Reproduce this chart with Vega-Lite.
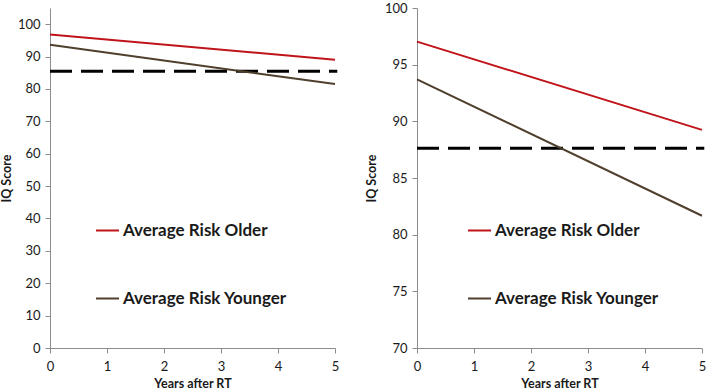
{
  "$schema": "https://vega.github.io/schema/vega-lite/v6.json",
  "padding": {"left": 0, "top": 2, "right": 0, "bottom": 0},
  "spacing": 26,
  "background": "white",
  "config": {
    "font": "Lato",
    "view": {"stroke": null},
    "axis": {
      "grid": false,
      "domainColor": "#8c8c8c",
      "tickColor": "#8c8c8c",
      "labelFont": "Lato",
      "labelFontSize": 13,
      "labelColor": "#1a1a1a",
      "labelOverlap": false,
      "titleFont": "Lato",
      "titleFontSize": 12.5,
      "titleFontWeight": "bold",
      "titleColor": "#1a1a1a",
      "format": "d"
    },
    "legend": {
      "orient": "none",
      "symbolType": "stroke",
      "symbolStrokeWidth": 2,
      "symbolSize": 529,
      "labelFont": "Lato",
      "labelFontSize": 17,
      "labelFontWeight": "bold",
      "labelColor": "#1a1a1a",
      "labelLimit": 0,
      "rowPadding": 47,
      "labelOffset": 3,
      "title": null
    }
  },
  "datasets": {
    "lines": [
      {"panel": "A", "group": "Average Risk Older", "year": 0, "iq": 96.85},
      {"panel": "A", "group": "Average Risk Older", "year": 5, "iq": 89.0},
      {"panel": "A", "group": "Average Risk Younger", "year": 0, "iq": 93.66},
      {"panel": "A", "group": "Average Risk Younger", "year": 5, "iq": 81.5},
      {"panel": "B", "group": "Average Risk Older", "year": 0, "iq": 97.03},
      {"panel": "B", "group": "Average Risk Older", "year": 5, "iq": 89.25},
      {"panel": "B", "group": "Average Risk Younger", "year": 0, "iq": 93.7},
      {"panel": "B", "group": "Average Risk Younger", "year": 5, "iq": 81.67}
    ],
    "thresholds": [
      {"panel": "A", "x0": 0, "x1": 5.04, "iq": 85.5},
      {"panel": "B", "x0": 0, "x1": 5.04, "iq": 87.62}
    ]
  },
  "hconcat": [
    {
      "width": 285,
      "height": 340,
      "layer": [
        {
          "data": {"name": "thresholds"},
          "transform": [{"filter": "datum.panel === 'A'"}],
          "mark": {"type": "rule", "color": "black", "strokeWidth": 3, "strokeDash": [22, 9], "clip": false},
          "encoding": {
            "x": {
              "field": "x0", "type": "quantitative",
              "scale": {"domain": [0, 5], "nice": false},
              "axis": {"values": [0, 1, 2, 3, 4, 5], "title": "Years after RT", "tickSize": 5, "labelPadding": 7, "titlePadding": 4, "labelFlush": false, "labelOverlap": false}
            },
            "x2": {"field": "x1"},
            "y": {
              "field": "iq", "type": "quantitative",
              "scale": {"domain": [0, 105], "nice": false, "zero": false},
              "axis": {"values": [0, 10, 20, 30, 40, 50, 60, 70, 80, 90, 100], "title": "IQ Score", "tickSize": 5, "labelPadding": 5, "titlePadding": 4, "labelOverlap": false}
            }
          }
        },
        {
          "data": {"name": "lines"},
          "transform": [{"filter": "datum.panel === 'A'"}],
          "mark": {"type": "line", "strokeWidth": 2},
          "encoding": {
            "x": {
              "field": "year", "type": "quantitative",
              "scale": {"domain": [0, 5], "nice": false},
              "axis": {"values": [0, 1, 2, 3, 4, 5], "title": "Years after RT", "tickSize": 5, "labelPadding": 7, "titlePadding": 4, "labelFlush": false, "labelOverlap": false}
            },
            "y": {
              "field": "iq", "type": "quantitative",
              "scale": {"domain": [0, 105], "nice": false, "zero": false},
              "axis": {"values": [0, 10, 20, 30, 40, 50, 60, 70, 80, 90, 100], "title": "IQ Score", "tickSize": 5, "labelPadding": 5, "titlePadding": 4, "labelOverlap": false}
            },
            "color": {
              "field": "group", "type": "nominal",
              "scale": {"domain": ["Average Risk Older", "Average Risk Younger"], "range": ["#c0141b", "#4f3f2c"]},
              "legend": {"legendX": 45, "legendY": 210}
            }
          }
        }
      ]
    },
    {
      "width": 285,
      "height": 340,
      "layer": [
        {
          "data": {"name": "thresholds"},
          "transform": [{"filter": "datum.panel === 'B'"}],
          "mark": {"type": "rule", "color": "black", "strokeWidth": 3, "strokeDash": [22, 9], "clip": false},
          "encoding": {
            "x": {
              "field": "x0", "type": "quantitative",
              "scale": {"domain": [0, 5], "nice": false},
              "axis": {"values": [0, 1, 2, 3, 4, 5], "title": "Years after RT", "tickSize": 5, "labelPadding": 7, "titlePadding": 4, "labelFlush": false, "labelOverlap": false}
            },
            "x2": {"field": "x1"},
            "y": {
              "field": "iq", "type": "quantitative",
              "scale": {"domain": [70, 100], "nice": false, "zero": false},
              "axis": {"values": [70, 75, 80, 85, 90, 95, 100], "title": "IQ Score", "tickSize": 5, "labelPadding": 5, "titlePadding": 6, "labelOverlap": false}
            }
          }
        },
        {
          "data": {"name": "lines"},
          "transform": [{"filter": "datum.panel === 'B'"}],
          "mark": {"type": "line", "strokeWidth": 2},
          "encoding": {
            "x": {
              "field": "year", "type": "quantitative",
              "scale": {"domain": [0, 5], "nice": false},
              "axis": {"values": [0, 1, 2, 3, 4, 5], "title": "Years after RT", "tickSize": 5, "labelPadding": 7, "titlePadding": 4, "labelFlush": false, "labelOverlap": false}
            },
            "y": {
              "field": "iq", "type": "quantitative",
              "scale": {"domain": [70, 100], "nice": false, "zero": false},
              "axis": {"values": [70, 75, 80, 85, 90, 95, 100], "title": "IQ Score", "tickSize": 5, "labelPadding": 5, "titlePadding": 6, "labelOverlap": false}
            },
            "color": {
              "field": "group", "type": "nominal",
              "scale": {"domain": ["Average Risk Older", "Average Risk Younger"], "range": ["#c0141b", "#4f3f2c"]},
              "legend": {"legendX": 50, "legendY": 210}
            }
          }
        }
      ]
    }
  ],
  "resolve": {"scale": {"color": "independent", "y": "independent", "x": "independent"}, "legend": {"color": "independent"}}
}
